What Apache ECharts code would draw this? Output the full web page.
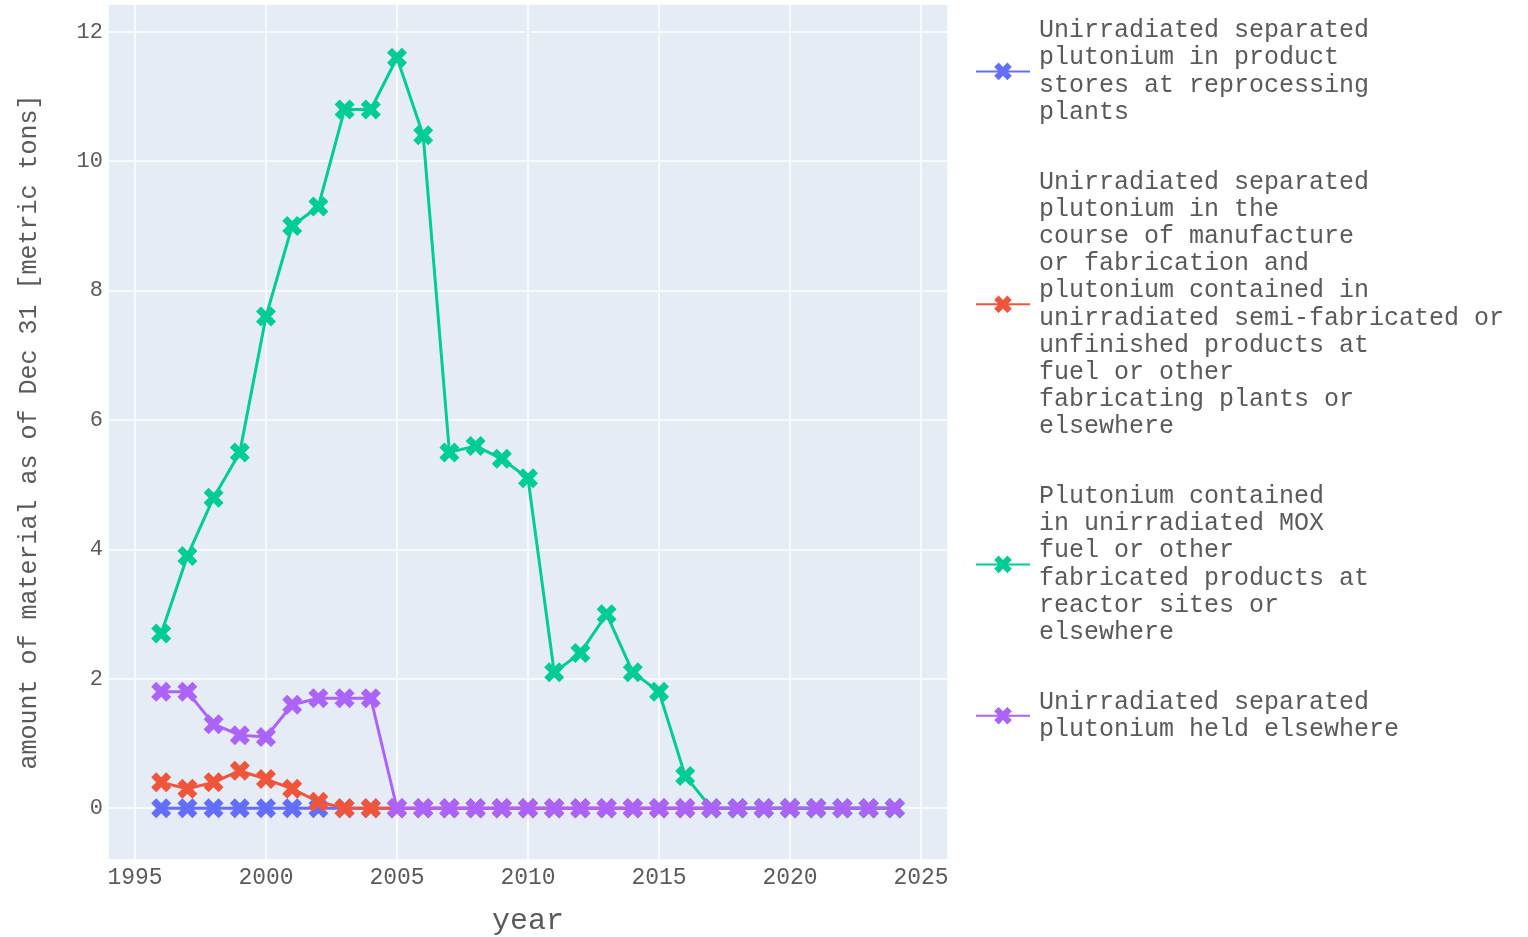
<!DOCTYPE html>
<html>
<head>
<meta charset="utf-8">
<title>Unirradiated separated plutonium stocks</title>
<script src="https://cdn.jsdelivr.net/npm/echarts@6/dist/echarts.min.js"></script>
<style>
  html, body { margin: 0; padding: 0; background: #ffffff; overflow: hidden; }
  #chart { width: 1528px; height: 937px; }
</style>
</head>
<body>
<div id="chart"></div>
<script>
// Reporting years (stock as of Dec 31)
const years = [1996, 1997, 1998, 1999, 2000, 2001, 2002, 2003, 2004, 2005,
               2006, 2007, 2008, 2009, 2010, 2011, 2012, 2013, 2014, 2015,
               2016, 2017, 2018, 2019, 2020, 2021, 2022, 2023, 2024];

// Metric tons per category
const productStores = [0, 0, 0, 0, 0, 0, 0, 0, 0, 0,
                       0, 0, 0, 0, 0, 0, 0, 0, 0, 0,
                       0, 0, 0, 0, 0, 0, 0, 0, 0];
const inFabrication = [0.4, 0.3, 0.4, 0.58, 0.45, 0.3, 0.1, 0, 0, 0,
                       0, 0, 0, 0, 0, 0, 0, 0, 0, 0,
                       0, 0, 0, 0, 0, 0, 0, 0, 0];
const moxFuel = [2.7, 3.9, 4.8, 5.5, 7.6, 9.0, 9.3, 10.8, 10.8, 11.6,
                 10.4, 5.5, 5.6, 5.4, 5.1, 2.1, 2.4, 3.0, 2.1, 1.8,
                 0.5, 0, 0, 0, 0, 0, 0, 0, 0];
const heldElsewhere = [1.8, 1.8, 1.3, 1.13, 1.1, 1.6, 1.7, 1.7, 1.7, 0,
                       0, 0, 0, 0, 0, 0, 0, 0, 0, 0,
                       0, 0, 0, 0, 0, 0, 0, 0, 0];

// Legend labels, wrapped line by line
const seriesNames = [
  'Unirradiated separated\nplutonium in product\nstores at reprocessing\nplants',
  'Unirradiated separated\nplutonium in the\ncourse of manufacture\nor fabrication and\nplutonium contained in\nunirradiated semi-fabricated or\nunfinished products at\nfuel or other\nfabricating plants or\nelsewhere',
  'Plutonium contained\nin unirradiated MOX\nfuel or other\nfabricated products at\nreactor sites or\nelsewhere',
  'Unirradiated separated\nplutonium held elsewhere'
];
const seriesValues = [productStores, inFabrication, moxFuel, heldElsewhere];
const seriesColors = ['#636efa', '#ef553b', '#00cc96', '#ab63fa'];

// Axis titles
const xTitle = 'year';
const yTitle = 'amount of material as of Dec 31 [metric tons]';

// Thick "x" marker
const xMarker = 'path://M0,1L1,2L2,1L1,0L2,-1L1,-2L0,-1L-1,-2L-2,-1L-1,0L-2,1L-1,2Z';

const FONT = '"Liberation Mono", "Courier New", monospace';
const TEXT = '#5a5a5a';

const chart = echarts.init(document.getElementById('chart'), null, { renderer: 'canvas', width: 1528, height: 937 });

const series = seriesValues.map((vals, i) => ({
  name: seriesNames[i],
  type: 'line',
  data: years.map((y, k) => [y, vals[k]]),
  symbol: xMarker,
  symbolSize: 20,
  showAllSymbol: true,
  lineStyle: { width: 3, color: seriesColors[i] },
  itemStyle: { color: seriesColors[i] },
  emphasis: { disabled: true },
  animation: false,
  z: 2 + i
}));

chart.setOption({
  animation: false,
  backgroundColor: '#ffffff',
  color: seriesColors,
  grid: {
    left: 108,
    width: 840,
    top: 4,
    height: 856,
    show: true,
    backgroundColor: '#e5ecf6',
    borderWidth: 0,
    containLabel: false,
    outerBoundsMode: 'none'
  },
  xAxis: {
    type: 'value',
    min: 1993.97,
    max: 2026.03,
    minInterval: 5,
    maxInterval: 5,
    name: xTitle,
    nameLocation: 'middle',
    nameGap: 46,
    nameTextStyle: { fontFamily: FONT, fontSize: 30, color: TEXT },
    axisLine: { show: false },
    axisTick: { show: false },
    axisLabel: {
      fontFamily: FONT,
      fontSize: 23,
      color: TEXT,
      margin: 6,
      formatter: v => (Math.abs(v - Math.round(v / 5) * 5) < 1e-6 ? String(Math.round(v)) : '')
    },
    splitLine: { show: true, lineStyle: { color: '#ffffff', width: 1.5 } }
  },
  yAxis: {
    type: 'value',
    min: -0.8,
    max: 12.43,
    minInterval: 2,
    maxInterval: 2,
    name: yTitle,
    nameLocation: 'middle',
    nameRotate: 90,
    nameGap: 66,
    nameTextStyle: { fontFamily: FONT, fontSize: 25, color: TEXT },
    axisLine: { show: false },
    axisTick: { show: false },
    axisLabel: {
      fontFamily: FONT,
      fontSize: 22,
      color: TEXT,
      margin: 5,
      formatter: v => (Math.abs(v - Math.round(v / 2) * 2) < 1e-6 ? String(Math.round(v)) : '')
    },
    splitLine: { show: true, lineStyle: { color: '#ffffff', width: 1.5 } }
  },
  legend: {
    orient: 'vertical',
    left: 975,
    top: 17,
    padding: 0,
    itemGap: 42.5,
    itemWidth: 54,
    itemHeight: 22,
    selectedMode: false,
    textStyle: {
      fontFamily: FONT,
      fontSize: 25,
      lineHeight: 27.2,
      color: TEXT,
      padding: [0, 0, 0, 4]
    },
    data: seriesNames
  },
  series: series
});
</script>
</body>
</html>
